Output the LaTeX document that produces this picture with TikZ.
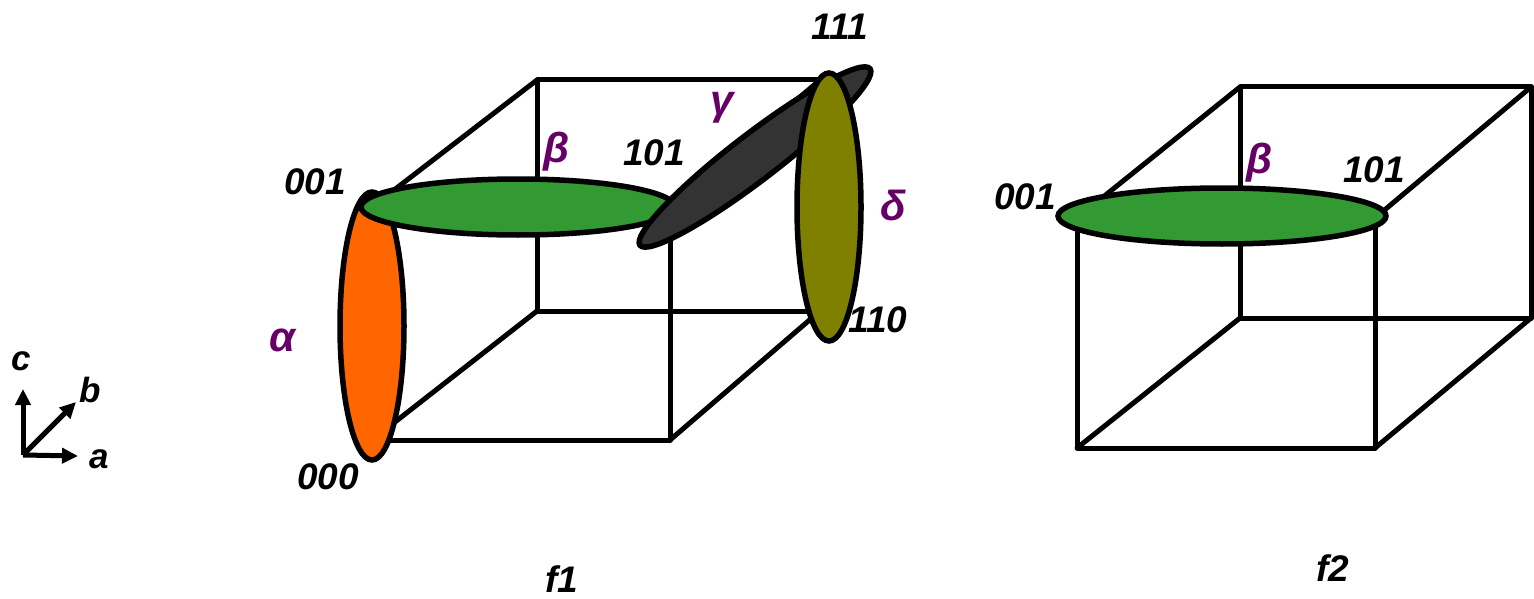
\documentclass[tikz,border=0pt]{standalone}
\usepackage{fontspec}
\setmainfont{Liberation Sans}
\usetikzlibrary{arrows.meta}
\definecolor{lblpurple}{HTML}{660066}
\definecolor{orangefill}{HTML}{FF6600}
\definecolor{greenfill}{HTML}{339933}
\definecolor{grayfill}{HTML}{333333}
\definecolor{olivefill}{HTML}{808000}
\begin{document}
\begin{tikzpicture}[x=1pt,y=-1pt,
  edge/.style={line width=5pt,line cap=round,line join=round},
  blob/.style={line width=5.5pt,draw=black},
  corner/.style={font=\fontsize{37}{42}\selectfont\bfseries\itshape,inner sep=0pt},
  greek/.style={font=\fontsize{42}{46}\selectfont\bfseries\itshape,text=lblpurple,inner sep=0pt},
  axis/.style={line width=5pt,-{Triangle[length=16pt,width=15pt]}},
  axlbl/.style={font=\fontsize{35}{40}\selectfont\bfseries\itshape,inner sep=0pt}]
\useasboundingbox (0,0) rectangle (1534,599);
% ---- cube f1 corners
\coordinate (a000) at (372,440);
\coordinate (a100) at (670,440);
\coordinate (a001) at (372,207);
\coordinate (a101) at (670,207);
\coordinate (a010) at (537,311);
\coordinate (a110) at (820,311);
\coordinate (a011) at (537,80);
\coordinate (a111) at (820,80);
\draw[edge] (a000) -- (a100) -- (a101) -- (a001) -- cycle;
\draw[edge] (a010) -- (a110) -- (a111) -- (a011) -- cycle;
\draw[edge] (a000) -- (a010);
\draw[edge] (a100) -- (a110);
\draw[edge] (a101) -- (a111);
\draw[edge] (a001) -- (a011);
% ---- ellipses f1
\draw[blob,fill=orangefill] (372,326) ellipse [x radius=32, y radius=134];
\draw[blob,fill=greenfill] (518,207) ellipse [x radius=157, y radius=28];
\draw[blob,fill=grayfill,rotate around={37.5:(755,157)}] (755,157) ellipse [x radius=145, y radius=23];
\draw[blob,fill=olivefill] (829,207) ellipse [x radius=32, y radius=134];
% ---- labels f1
\node[corner] (l001) at (315,182) {001};
\node[corner] (l000) at (328,477) {000};
\node[corner] (l101) at (654,153) {101};
\node[corner] (l111) at (840,27) {111};
\node[corner] (l110) at (878,320) {110};
\node[greek] (galpha) at (283,340) {α};
\node[greek] (gbeta) at (557,152) {β};
\node[greek] (ggamma) at (722,108) {γ};
\node[greek] (gdelta) at (893,205) {δ};
\node[corner] (f1) at (562,579) {f1};
% ---- cube f2
\coordinate (b000) at (1077,448);
\coordinate (b100) at (1375,448);
\coordinate (b001) at (1077,218);
\coordinate (b101) at (1375,218);
\coordinate (b010) at (1240,318);
\coordinate (b110) at (1531,318);
\coordinate (b011) at (1240,87);
\coordinate (b111) at (1531,87);
\draw[edge] (b000) -- (b100) -- (b101) -- (b001) -- cycle;
\draw[edge] (b010) -- (b110) -- (b111) -- (b011) -- cycle;
\draw[edge] (b000) -- (b010);
\draw[edge] (b100) -- (b110);
\draw[edge] (b101) -- (b111);
\draw[edge] (b001) -- (b011);
\draw[blob,fill=greenfill] (1222,216) ellipse [x radius=164, y radius=28];
\node[corner] (m001) at (1025,197) {001};
\node[corner] (m101) at (1374,170) {101};
\node[greek] (mbeta) at (1260,163) {β};
\node[corner] (f2) at (1333,568) {f2};
% ---- axes
\coordinate (o) at (23,455);
\coordinate (tc) at (23,389);
\coordinate (tb) at (76,402);
\coordinate (ta) at (78,456);
\draw[axis] (o) -- (tc);
\draw[axis] (o) -- (tb);
\draw[axis] (o) -- (ta);
\node[axlbl] (lc) at (21,361) {c};
\node[axlbl] (lb) at (90,390) {b};
\node[axlbl] (la) at (99,459) {a};
\end{tikzpicture}
\end{document}
